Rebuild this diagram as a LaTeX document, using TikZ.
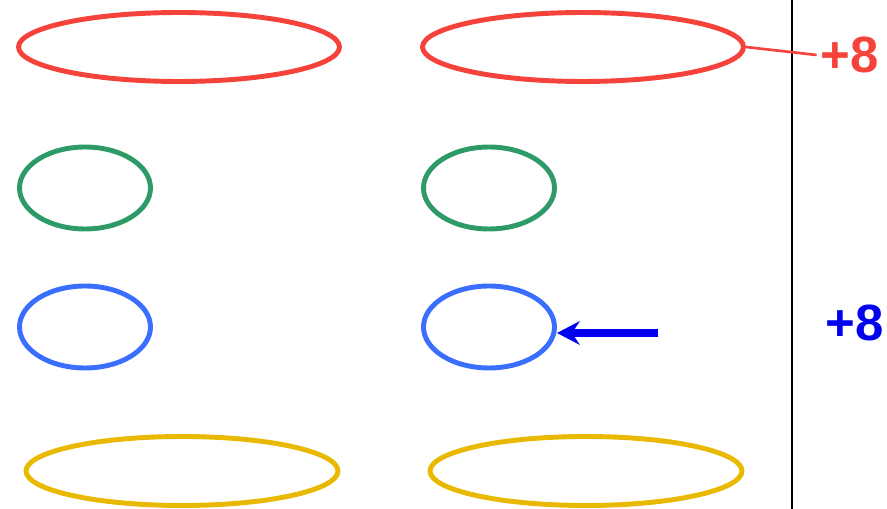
\documentclass[tikz,border=0pt]{standalone}
\usepackage{fontspec}
\setmainfont{Liberation Sans}
\usepackage{tikz}
\usetikzlibrary{shapes, arrows.meta, positioning}
\usepackage{xcolor}
\definecolor{ringred}{RGB}{245,66,58}
\definecolor{ringgreen}{RGB}{46,154,104}
\definecolor{ringblue}{RGB}{58,110,255}
\definecolor{ringyellow}{RGB}{233,184,0}
\definecolor{arrowblue}{RGB}{0,0,238}

\begin{document}
\begin{tikzpicture}[x=0.02cm, y=-0.02cm,
    ring/.style={ellipse, draw, line width=2.8pt, inner sep=0pt},
    bigring/.style={ring, minimum width=6.42cm, minimum height=1.38cm},
    smallring/.style={ring, minimum width=2.62cm, minimum height=1.64cm},
    gain/.style={font=\bfseries\fontsize{29}{29}\selectfont, inner xsep=0.08cm, inner ysep=0pt}]
    \useasboundingbox (0,0) rectangle (887,509);

    % left column
    \node (R1) [bigring, draw=ringred] at (179,47) {};
    \node (G1) [smallring, draw=ringgreen] at (85,188) {};
    \node (B1) [smallring, draw=ringblue] at (85,327) {};
    \node (Y1) [bigring, draw=ringyellow, minimum width=6.24cm] at (182,471) {};

    % right column
    \node (R2) [bigring, draw=ringred] at (583,47) {};
    \node (G2) [smallring, draw=ringgreen] at (489,188) {};
    \node (B2) [smallring, draw=ringblue] at (489,327) {};
    \node (Y2) [bigring, draw=ringyellow, minimum width=6.24cm] at (586,471) {};

    % divider
    \coordinate (top) at (792,0);
    \coordinate (bot) at (792,509);
    \draw [line width=1.2pt] (top) -- (bot);

    % gains
    \node (r8) [gain, text=ringred] at (850,55) {+8};
    \node (b8) [gain, text=arrowblue] at (855,323) {+8};

    \draw [ringred, line width=1.5pt] (R2.east) -- (r8.west);

    \coordinate (tail) at (658,333);
    \draw [-{Stealth[length=0.46cm, width=0.48cm, inset=0.16cm, line width=0pt]}, line width=4.5pt, arrowblue] (tail) -- (tail -| B2.east);
\end{tikzpicture}
\end{document}
